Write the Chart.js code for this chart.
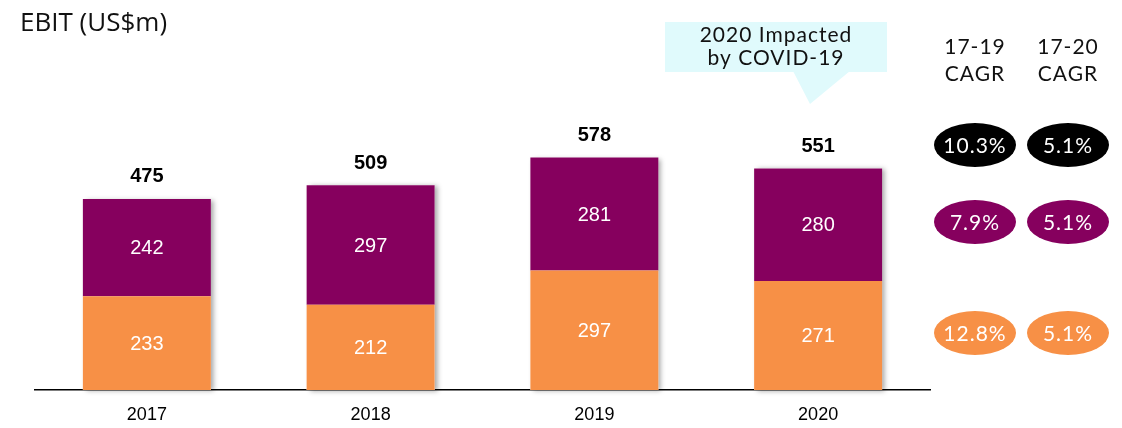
<!DOCTYPE html>
<html>
<head>
<meta charset="utf-8">
<script src="https://cdn.jsdelivr.net/npm/chart.js@4.4.7/dist/chart.umd.min.js"></script>
<style>
  body { margin: 0; background: #fff; }
  #wrap { width: 1122px; height: 428px; position: relative; }
</style>
</head>
<body>
<div id="wrap"><canvas id="ebitChart"></canvas></div>
<script>
// data
const years = ["2017", "2018", "2019", "2020"];
const lowerSeg = [233, 212, 297, 271];   // orange
const upperSeg = [242, 297, 281, 280];   // purple
const totals = [475, 509, 578, 551];
const cagrHeads = [["17-19", "CAGR"], ["17-20", "CAGR"]];
const cagrTotal = ["10.3%", "5.1%"];
const cagrUpper = ["7.9%", "5.1%"];
const cagrLower = ["12.8%", "5.1%"];

const ORANGE = '#F79046';
const PURPLE = '#86005E';
const LIGHT = "'Lato', 'Open Sans', sans-serif";

// soft shadow behind each whole stack
const barShadow = {
  id: 'barShadow',
  beforeDatasetsDraw(chart) {
    const ctx = chart.ctx;
    const lo = chart.getDatasetMeta(0).data;
    const hi = chart.getDatasetMeta(1).data;
    ctx.save();
    ctx.shadowColor = 'rgba(0,0,0,0.35)';
    ctx.shadowBlur = 5;
    ctx.shadowOffsetX = 3;
    ctx.shadowOffsetY = 1;
    ctx.fillStyle = '#fff';
    lo.forEach((bar, i) => {
      const w = bar.width;
      ctx.fillRect(bar.x - w / 2, hi[i].y, w, bar.base - hi[i].y);
    });
    ctx.restore();
  }
};

// labels + side annotations
const labelsPlugin = {
  id: 'labels',
  afterDatasetsDraw(chart) {
    const ctx = chart.ctx;
    ctx.save();
    ctx.textAlign = 'center';
    ctx.textBaseline = 'middle';
    ctx.font = '20px Arial, "Liberation Sans"';
    ctx.fillStyle = '#fff';
    [0, 1].forEach(d => {
      chart.getDatasetMeta(d).data.forEach((bar, i) => {
        const vals = d === 0 ? lowerSeg : upperSeg;
        ctx.fillText(vals[i], bar.x, (bar.y + bar.base) / 2 + 1);
      });
    });
    ctx.font = 'bold 20px Arial, "Liberation Sans"';
    ctx.fillStyle = '#000';
    chart.getDatasetMeta(1).data.forEach((bar, i) => {
      ctx.fillText(totals[i], bar.x, bar.y - 22);
    });

    // title
    ctx.textAlign = 'left';
    ctx.font = '26px "Open Sans", sans-serif';
    ctx.fillStyle = '#111';
    ctx.fillText('EBIT (US$m)', 20, 24);

    // callout
    ctx.fillStyle = '#E0FAFC';
    ctx.fillRect(665, 22, 222, 50);
    ctx.beginPath();
    ctx.moveTo(793, 71);
    ctx.lineTo(850, 71);
    ctx.lineTo(810, 104);
    ctx.closePath();
    ctx.fill();
    ctx.textAlign = 'center';
    ctx.fillStyle = '#111';
    ctx.font = '21px ' + LIGHT;
    ctx.letterSpacing = '1px';
    ctx.fillText('2020 Impacted', 776, 35);
    ctx.fillText('by COVID-19', 776, 58);

    // CAGR columns
    const cx = [975, 1068];
    cagrHeads.forEach((h, k) => {
      ctx.fillStyle = '#111';
      ctx.fillText(h[0], cx[k], 47);
      ctx.fillText(h[1], cx[k], 74);
    });
    const rows = [[cagrTotal, '#000', 145], [cagrUpper, PURPLE, 222], [cagrLower, ORANGE, 333]];
    rows.forEach(([vals, col, y]) => {
      vals.forEach((v, k) => {
        ctx.fillStyle = col;
        ctx.beginPath();
        ctx.ellipse(cx[k], y, 41, 22, 0, 0, Math.PI * 2);
        ctx.fill();
        ctx.fillStyle = '#fff';
        ctx.fillText(v, cx[k], y + 1);
      });
    });
    ctx.restore();
  }
};

new Chart(document.getElementById('ebitChart'), {
  type: 'bar',
  data: {
    labels: years,
    datasets: [
      { label: 'Lower', data: lowerSeg, backgroundColor: ORANGE, barPercentage: 0.572, categoryPercentage: 1 },
      { label: 'Upper', data: upperSeg, backgroundColor: PURPLE, barPercentage: 0.572, categoryPercentage: 1 }
    ]
  },
  options: {
    responsive: true,
    maintainAspectRatio: false,
    animation: false,
    layout: { padding: { left: 35, right: 192, top: 28, bottom: 0 } },
    plugins: { legend: { display: false }, tooltip: { enabled: false } },
    scales: {
      x: {
        stacked: true,
        grid: { display: false, drawTicks: false },
        border: { color: '#000', width: 1.5 },
        ticks: { color: '#000', font: { family: 'Arial', size: 18 }, padding: 14 },
        afterFit(scale) { scale.height = 38; }
      },
      y: {
        stacked: true,
        display: false,
        min: 0,
        max: 900
      }
    }
  },
  plugins: [barShadow, labelsPlugin]
});
</script>
</body>
</html>
